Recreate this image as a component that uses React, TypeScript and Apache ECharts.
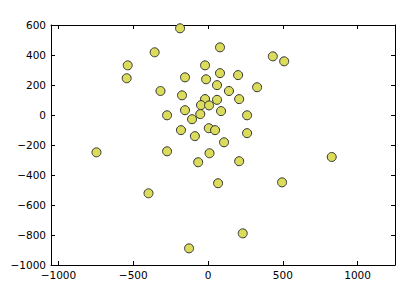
import React, { useEffect, useRef } from "react";
import * as echarts from "echarts";

const xValues: number[] = [
  -187, 80, 433, 509, -357, -537, -544, -20, -154, -13, 80, 201, 60, 140, 328,
  -318, -174, -20, 60, 208, -47, 7, -154, 87, -274, 261, -52, -107, -181, 5,
  47, 261, -88, 107, -274, 10, -66, 208, -746, -398, -127, 827, 67, 495, 232,
];
const yValues: number[] = [
  578, 451, 391, 358, 418, 331, 245, 331, 251, 238, 279, 266, 199, 160, 185,
  160, 131, 106, 101, 106, 66, 64, 32, 26, -2, -2, 6, -28, -101, -88,
  -101, -121, -141, -182, -242, -255, -315, -308, -249, -522, -889, -280, -455, -449, -789,
];
const xTicks: number[] = [-1000, -500, 0, 500, 1000];
const yTicks: number[] = [-1000, -800, -600, -400, -200, 0, 200, 400, 600];

const fmt = (v: number) => (v < 0 ? "\u2212" + Math.abs(v) : String(v));

export default function App() {
  const ref = useRef<HTMLDivElement>(null);
  useEffect(() => {
    if (!ref.current) return;
    const chart = echarts.init(ref.current, undefined, { renderer: "svg" });
    const axisCommon = {
      type: "value" as const,
      axisLine: { show: true, onZero: false, lineStyle: { color: "#000", width: 1 } },
      axisTick: { show: true, inside: true, length: 4, lineStyle: { color: "#000", width: 1 } },
      splitLine: { show: false },
    };
    const labelStyle = {
      color: "#000",
      fontFamily: "DejaVu Sans",
      fontSize: 10.5,
      formatter: (v: number) => fmt(v),
    };
    chart.setOption({
      animation: false,
      backgroundColor: "#fff",
      grid: { left: 51, right: 9, top: 25, bottom: 24, containLabel: false },
      xAxis: [
        {
          ...axisCommon,
          position: "bottom",
          min: -1050,
          max: 1250,
          axisTick: { ...axisCommon.axisTick, customValues: xTicks },
          axisLabel: { ...labelStyle, margin: 4, customValues: xTicks },
        },
        {
          ...axisCommon,
          position: "top",
          min: -1050,
          max: 1250,
          axisTick: { ...axisCommon.axisTick, customValues: xTicks },
          axisLabel: { show: false },
        },
      ],
      yAxis: [
        {
          ...axisCommon,
          position: "left",
          min: -1000,
          max: 600,
          interval: 200,
          axisLabel: { ...labelStyle, margin: 5 },
        },
        {
          ...axisCommon,
          position: "right",
          min: -1000,
          max: 600,
          interval: 200,
          axisLabel: { show: false },
        },
      ],
      series: [
        {
          type: "scatter",
          xAxisIndex: 0,
          yAxisIndex: 0,
          symbol: "circle",
          symbolSize: 9,
          itemStyle: { color: "#dcdc5c", borderColor: "#333", borderWidth: 1, opacity: 1 },
          data: xValues.map((x, i) => [x, yValues[i]]),
        },
      ],
    });
    return () => chart.dispose();
  }, []);
  return (
    <div
      ref={ref}
      style={{ position: "fixed", left: 0, top: 0, width: 404, height: 289 }}
    />
  );
}
